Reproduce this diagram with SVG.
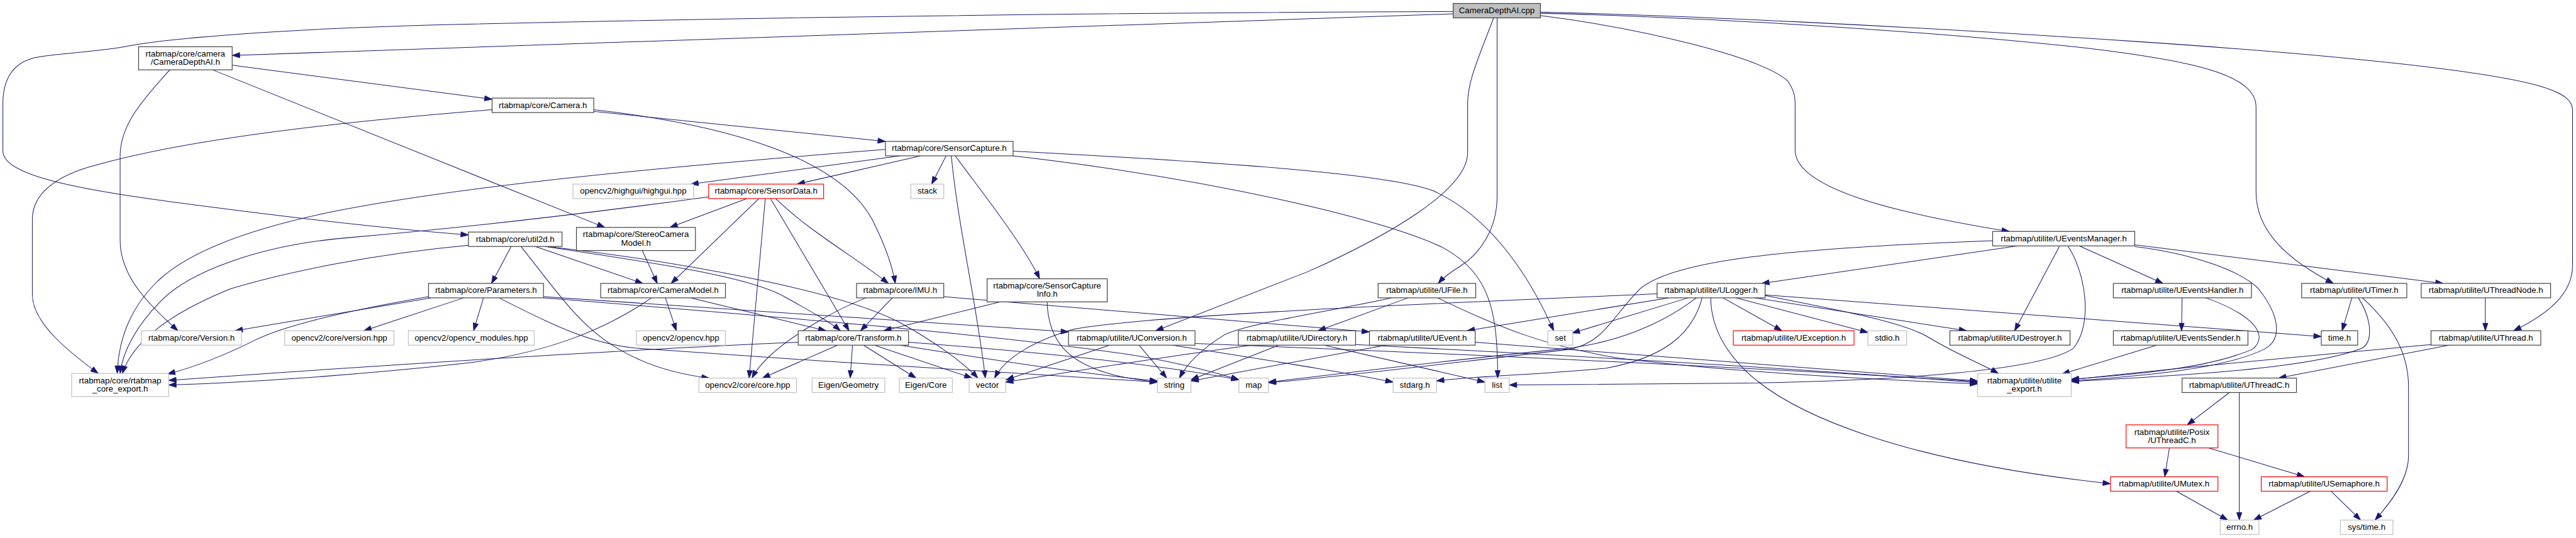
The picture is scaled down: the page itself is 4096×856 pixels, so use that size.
<svg xmlns="http://www.w3.org/2000/svg" width="4096" height="856" viewBox="0 0 4096 856">
<style>
.n rect{fill:#fff;stroke:#404040;stroke-width:1.3}
.ext rect{stroke:#bfbfbf}
.red rect{stroke:#ff0000}
.root rect{fill:#bfbfbf}
text{font-family:"Liberation Sans",Arial,sans-serif;font-size:14.5px;fill:#000;text-anchor:middle}
#edges path{fill:none;stroke:#191970;stroke-width:1.1;marker-end:url(#ah)}
</style>
<defs>
<marker id="ah" markerUnits="userSpaceOnUse" markerWidth="14" markerHeight="10" refX="13" refY="5" orient="auto" overflow="visible"><path d="M0,0.5 L13,5 L0,9.5 z" fill="#191970" stroke="#191970" stroke-width="1"/></marker>
</defs>
<rect width="4096" height="856" fill="#fff"/>
<g transform="scale(0.91839)">
<g id="edges">
<path d="M2516,24 L402,96"/>
<path d="M2516,20 C1800,22 1200,33 760,43 C500,50 300,65 220,80 C170,90 100,92 60,100 C20,110 5,140 5,180 L5,262 C5,300 110,325 300,350 C480,374 650,395 811,407"/>
<path d="M2586,31 C2560,100 2541,140 2541,180 L2541,265 C2541,330 2400,410 2266,470 L2001,573"/>
<path d="M2592,31 L2592,340 C2592,400 2560,440 2530,460 C2510,472 2498,482 2490,491"/>
<path d="M2667,27 C2850,50 3050,100 3095,140 C3105,155 3108,165 3108,180 L3108,260 C3108,330 3300,372 3479,401"/>
<path d="M2667,23 C2900,28 3300,50 3600,82 C3800,105 3906,130 3906,185 L3906,333 C3906,400 3960,450 4040,491"/>
<path d="M2667,21 C2900,26 3300,45 3700,72 C4000,92 4300,120 4400,150 C4440,162 4454,175 4454,190 L4454,460 C4454,510 4410,545 4352,573"/>
<path d="M402,113 L852,172"/>
<path d="M368,121 L1047,394"/>
<path d="M294,121 C240,180 208,220 208,270 L208,417 C208,480 260,530 308,573"/>
<path d="M852,190 C600,210 330,240 170,285 C90,305 56,340 56,380 L56,510 C56,560 120,610 170,647"/>
<path d="M1028,193 L1533,245"/>
<path d="M1028,190 C1250,215 1450,270 1510,380 C1530,420 1545,460 1550,491"/>
<path d="M1533,259 C1200,285 800,320 560,370 C420,400 320,440 270,490 C225,535 205,590 203,647"/>
<path d="M1558,270 L1196,319"/>
<path d="M1594,270 L1380,319"/>
<path d="M1638,270 L1613,319"/>
<path d="M1647,270 C1660,400 1690,520 1706,655"/>
<path d="M1654,270 C1690,320 1770,420 1800,483"/>
<path d="M1754,262 C2100,280 2400,300 2480,330 C2570,370 2640,460 2690,573"/>
<path d="M1754,270 C2100,310 2400,380 2500,430 C2580,475 2593,540 2593,655"/>
<path d="M1293,344 L1160,394"/>
<path d="M1227,341 C1000,372 800,395 600,412 C450,425 330,470 280,520 C235,565 212,610 208,647"/>
<path d="M1314,344 L1162,491"/>
<path d="M1325,344 L1297,655"/>
<path d="M1334,344 L1470,573"/>
<path d="M1343,344 C1400,400 1480,445 1538,491"/>
<path d="M1112,434 L1138,491"/>
<path d="M885,427 L851,491"/>
<path d="M902,427 C960,500 1000,560 1060,598 C1110,630 1170,648 1228,655"/>
<path d="M927,427 L1113,491"/>
<path d="M944,427 C1150,458 1300,480 1360,515 C1410,543 1440,560 1455,573"/>
<path d="M948,427 C1150,450 1450,500 1560,560 C1620,593 1670,630 1693,655"/>
<path d="M811,425 C650,440 500,470 400,500 C300,540 230,590 212,647"/>
<path d="M742,514 C620,535 500,560 440,590 C390,615 340,635 290,648"/>
<path d="M746,516 L407,573"/>
<path d="M803,516 L630,573"/>
<path d="M837,516 L820,573"/>
<path d="M864,516 C950,560 1020,595 1100,603 C1400,625 1800,650 2004,662"/>
<path d="M941,514 L1850,575"/>
<path d="M941,516 C1300,545 1800,585 2000,622 C2080,638 2120,650 2145,658"/>
<path d="M1152,516 L1171,573"/>
<path d="M1196,516 L1430,573"/>
<path d="M1128,516 C1050,570 950,612 800,630 C600,652 400,664 292,667"/>
<path d="M1382,593 C1100,605 700,630 292,659"/>
<path d="M1545,516 L1490,573"/>
<path d="M1499,516 C1440,540 1330,600 1302,655"/>
<path d="M1634,514 L2371,575"/>
<path d="M1732,523 L1530,573"/>
<path d="M1813,523 C1815,600 1860,632 1930,650 C1960,657 1985,660 2004,662"/>
<path d="M1450,598 L1320,655"/>
<path d="M1476,598 L1472,655"/>
<path d="M1495,598 L1586,655"/>
<path d="M1514,598 L1683,655"/>
<path d="M1558,598 C1700,620 1850,645 2004,660"/>
<path d="M1573,593 C1800,610 2000,630 2145,658"/>
<path d="M1921,598 L1742,658"/>
<path d="M1972,598 L2020,655"/>
<path d="M2069,595 C2500,612 3000,635 3424,661"/>
<path d="M2030,598 C2200,625 2330,645 2412,662"/>
<path d="M2167,598 C2000,620 1850,645 1741,662"/>
<path d="M2214,598 L2062,658"/>
<path d="M2293,598 L2571,662"/>
<path d="M2347,597 C2800,620 3200,645 3424,663"/>
<path d="M2438,516 L2282,573"/>
<path d="M2409,516 C2300,540 2160,560 2120,580 C2080,605 2055,630 2042,655"/>
<path d="M2489,516 C2600,570 2680,600 2800,620 C3000,645 3250,658 3424,665"/>
<path d="M2554,593 L3424,660"/>
<path d="M2399,598 L2062,660"/>
<path d="M2869,509 C2500,525 2000,545 1860,570 C1790,590 1740,620 1722,655"/>
<path d="M2889,516 L2540,573"/>
<path d="M2923,516 L2722,577"/>
<path d="M2937,516 C2880,560 2800,595 2700,605 C2500,625 2300,650 2196,662"/>
<path d="M2947,516 C2930,580 2880,620 2780,638 C2650,650 2550,652 2487,660"/>
<path d="M2962,516 C2962,560 2980,600 3020,640 C3100,720 3300,800 3654,838"/>
<path d="M2983,516 L3085,573"/>
<path d="M3006,516 L3234,576"/>
<path d="M3038,516 L3405,573"/>
<path d="M3056,512 C3200,540 3300,560 3340,585 C3390,615 3430,630 3460,647"/>
<path d="M3056,511 L4019,583"/>
<path d="M3493,426 L3050,491"/>
<path d="M3566,426 L3488,573"/>
<path d="M3580,426 C3610,470 3625,560 3590,603 C3540,640 3300,660 3000,664 L2613,667"/>
<path d="M3600,426 L3745,491"/>
<path d="M3696,424 L4230,491"/>
<path d="M3696,427 C3800,440 3880,470 3910,500 C3950,550 3950,590 3920,605 C3850,640 3700,652 3586,660"/>
<path d="M3450,417 C3100,430 2900,450 2840,500 C2790,550 2780,590 2720,605 C2500,630 2300,655 2196,663"/>
<path d="M3778,516 L3777,573"/>
<path d="M3819,516 C3900,545 3930,580 3900,605 C3820,640 3680,650 3586,657"/>
<path d="M3734,598 L3570,648"/>
<path d="M4072,516 L4055,573"/>
<path d="M4083,516 C4105,550 4110,590 4090,603 C4000,640 3750,652 3586,661"/>
<path d="M4090,516 C4150,570 4170,620 4170,670 L4170,790 C4170,830 4140,870 4112,901"/>
<path d="M4303,516 L4303,573"/>
<path d="M4209,597 C3900,625 3700,645 3586,658"/>
<path d="M4240,598 L3945,655"/>
<path d="M3860,680 L3787,736"/>
<path d="M3877,680 L3877,901"/>
<path d="M3756,776 L3748,826"/>
<path d="M3824,776 L3990,826"/>
<path d="M3768,851 L3857,901"/>
<path d="M4000,851 L3902,901"/>
<path d="M4036,851 L4087,901"/>
</g>
<g id="cpp" class="n root"><rect x="2516" y="6" width="151" height="25"/><text x="2591.5" y="22.8">CameraDepthAI.cpp</text></g>
<g id="cdh" class="n"><rect x="240" y="81" width="162" height="40"/><text x="321" y="98">rtabmap/core/camera</text><text x="321" y="112.5">/CameraDepthAI.h</text></g>
<g id="cam" class="n"><rect x="852" y="170" width="176" height="25"/><text x="940" y="186.8">rtabmap/core/Camera.h</text></g>
<g id="sc" class="n"><rect x="1533" y="245" width="221" height="25"/><text x="1643.5" y="261.8">rtabmap/core/SensorCapture.h</text></g>
<g id="hg" class="n ext"><rect x="992" y="319" width="209" height="25"/><text x="1096.5" y="335.8">opencv2/highgui/highgui.hpp</text></g>
<g id="sd" class="n red"><rect x="1227" y="319" width="199" height="25"/><text x="1326.5" y="335.8">rtabmap/core/SensorData.h</text></g>
<g id="stack" class="n ext"><rect x="1577" y="319" width="57" height="25"/><text x="1605.5" y="335.8">stack</text></g>
<g id="u2d" class="n"><rect x="811" y="402" width="162" height="25"/><text x="892" y="418.8">rtabmap/core/util2d.h</text></g>
<g id="scm" class="n"><rect x="998" y="394" width="206" height="40"/><text x="1101" y="411">rtabmap/core/StereoCamera</text><text x="1101" y="425.5">Model.h</text></g>
<g id="uem" class="n"><rect x="3450" y="401" width="246" height="25"/><text x="3573" y="417.8">rtabmap/utilite/UEventsManager.h</text></g>
<g id="par" class="n"><rect x="742" y="491" width="199" height="25"/><text x="841.5" y="507.8">rtabmap/core/Parameters.h</text></g>
<g id="cm" class="n"><rect x="1040" y="491" width="216" height="25"/><text x="1148" y="507.8">rtabmap/core/CameraModel.h</text></g>
<g id="imu" class="n"><rect x="1483" y="491" width="151" height="25"/><text x="1558.5" y="507.8">rtabmap/core/IMU.h</text></g>
<g id="sci" class="n"><rect x="1709" y="483" width="208" height="40"/><text x="1813" y="500">rtabmap/core/SensorCapture</text><text x="1813" y="514.5">Info.h</text></g>
<g id="ufile" class="n"><rect x="2386" y="491" width="169" height="25"/><text x="2470.5" y="507.8">rtabmap/utilite/UFile.h</text></g>
<g id="ulog" class="n"><rect x="2869" y="491" width="187" height="25"/><text x="2962.5" y="507.8">rtabmap/utilite/ULogger.h</text></g>
<g id="ueh" class="n"><rect x="3659" y="491" width="239" height="25"/><text x="3778.5" y="507.8">rtabmap/utilite/UEventsHandler.h</text></g>
<g id="utimer" class="n"><rect x="3985" y="491" width="182" height="25"/><text x="4076" y="507.8">rtabmap/utilite/UTimer.h</text></g>
<g id="utn" class="n"><rect x="4192" y="491" width="224" height="25"/><text x="4304" y="507.8">rtabmap/utilite/UThreadNode.h</text></g>
<g id="ver" class="n ext"><rect x="245" y="573" width="173" height="25"/><text x="331.5" y="589.8">rtabmap/core/Version.h</text></g>
<g id="cvver" class="n ext"><rect x="493" y="573" width="189" height="25"/><text x="587.5" y="589.8">opencv2/core/version.hpp</text></g>
<g id="cvmod" class="n ext"><rect x="707" y="573" width="218" height="25"/><text x="816" y="589.8">opencv2/opencv_modules.hpp</text></g>
<g id="cv" class="n ext"><rect x="1102" y="573" width="154" height="25"/><text x="1179" y="589.8">opencv2/opencv.hpp</text></g>
<g id="tf" class="n"><rect x="1382" y="573" width="191" height="25"/><text x="1477.5" y="589.8">rtabmap/core/Transform.h</text></g>
<g id="uconv" class="n"><rect x="1850" y="573" width="219" height="25"/><text x="1959.5" y="589.8">rtabmap/utilite/UConversion.h</text></g>
<g id="udir" class="n"><rect x="2144" y="573" width="203" height="25"/><text x="2245.5" y="589.8">rtabmap/utilite/UDirectory.h</text></g>
<g id="uevent" class="n"><rect x="2371" y="573" width="183" height="25"/><text x="2462.5" y="589.8">rtabmap/utilite/UEvent.h</text></g>
<g id="set" class="n ext"><rect x="2680" y="573" width="43" height="25"/><text x="2701.5" y="589.8">set</text></g>
<g id="uexc" class="n red"><rect x="3001" y="573" width="209" height="25"/><text x="3105.5" y="589.8">rtabmap/utilite/UException.h</text></g>
<g id="stdio" class="n ext"><rect x="3234" y="573" width="67" height="25"/><text x="3267.5" y="589.8">stdio.h</text></g>
<g id="udes" class="n"><rect x="3376" y="573" width="208" height="25"/><text x="3480" y="589.8">rtabmap/utilite/UDestroyer.h</text></g>
<g id="ues" class="n"><rect x="3659" y="573" width="233" height="25"/><text x="3775.5" y="589.8">rtabmap/utilite/UEventsSender.h</text></g>
<g id="time" class="n"><rect x="4019" y="573" width="63" height="25"/><text x="4050.5" y="589.8">time.h</text></g>
<g id="uth" class="n"><rect x="4209" y="573" width="190" height="25"/><text x="4304" y="589.8">rtabmap/utilite/UThread.h</text></g>
<g id="cexp" class="n ext"><rect x="124" y="647" width="168" height="40"/><text x="208" y="664">rtabmap/core/rtabmap</text><text x="208" y="678.5">_core_export.h</text></g>
<g id="core" class="n ext"><rect x="1210" y="655" width="169" height="25"/><text x="1294.5" y="671.8">opencv2/core/core.hpp</text></g>
<g id="egeo" class="n ext"><rect x="1406" y="655" width="126" height="25"/><text x="1469" y="671.8">Eigen/Geometry</text></g>
<g id="ecore" class="n ext"><rect x="1557" y="655" width="92" height="25"/><text x="1603" y="671.8">Eigen/Core</text></g>
<g id="vec" class="n ext"><rect x="1678" y="655" width="63" height="25"/><text x="1709.5" y="671.8">vector</text></g>
<g id="str" class="n ext"><rect x="2004" y="655" width="58" height="25"/><text x="2033" y="671.8">string</text></g>
<g id="map" class="n ext"><rect x="2145" y="655" width="51" height="25"/><text x="2170.5" y="671.8">map</text></g>
<g id="stdarg" class="n ext"><rect x="2412" y="655" width="75" height="25"/><text x="2449.5" y="671.8">stdarg.h</text></g>
<g id="list" class="n ext"><rect x="2571" y="655" width="42" height="25"/><text x="2592" y="671.8">list</text></g>
<g id="uexp" class="n ext"><rect x="3424" y="647" width="162" height="40"/><text x="3505" y="664">rtabmap/utilite/utilite</text><text x="3505" y="678.5">_export.h</text></g>
<g id="uthc" class="n"><rect x="3778" y="655" width="198" height="25"/><text x="3877" y="671.8">rtabmap/utilite/UThreadC.h</text></g>
<g id="posix" class="n red"><rect x="3681" y="736" width="159" height="40"/><text x="3760.5" y="753">rtabmap/utilite/Posix</text><text x="3760.5" y="767.5">/UThreadC.h</text></g>
<g id="umutex" class="n red"><rect x="3654" y="826" width="186" height="25"/><text x="3747" y="842.8">rtabmap/utilite/UMutex.h</text></g>
<g id="usem" class="n red"><rect x="3915" y="826" width="218" height="25"/><text x="4024" y="842.8">rtabmap/utilite/USemaphore.h</text></g>
<g id="errno" class="n ext"><rect x="3844" y="901" width="67" height="25"/><text x="3877.5" y="917.8">errno.h</text></g>
<g id="systime" class="n ext"><rect x="4052" y="901" width="91" height="25"/><text x="4097.5" y="917.8">sys/time.h</text></g>
</g>
</svg>
